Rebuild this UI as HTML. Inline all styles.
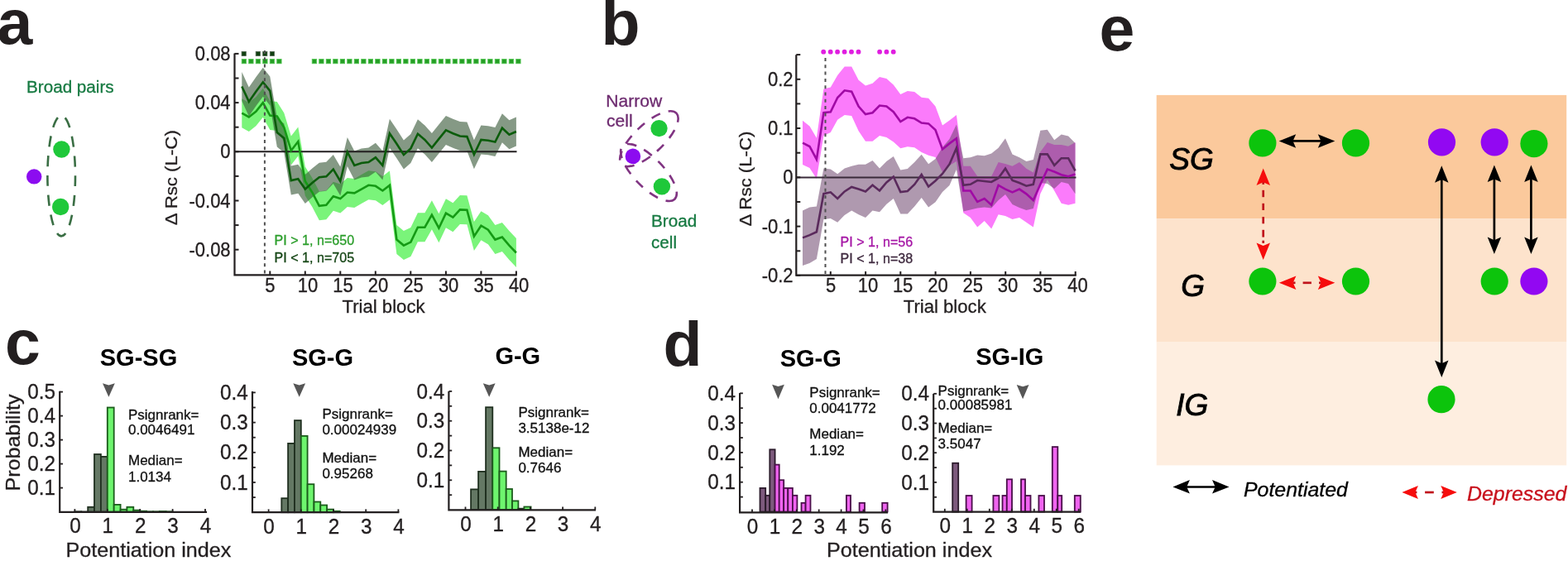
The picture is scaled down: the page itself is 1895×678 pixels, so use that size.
<!DOCTYPE html>
<html><head><meta charset="utf-8"><title>Figure</title>
<style>
html,body{margin:0;padding:0;background:#fff;width:1895px;height:678px;overflow:hidden}
svg{display:block}
text{font-family:'Liberation Sans', Arial, Helvetica, sans-serif}
</style></head><body>
<svg width="1895" height="678" viewBox="0 0 1895 678">
<rect x="0" y="0" width="1895" height="678" fill="#fff"/>
<text transform="translate(-3.5,53) scale(1.020,1.000)" font-size="75.5" fill="#231f20" font-weight="bold">a</text>
<text transform="translate(726.5,53.5) scale(1.020,1.000)" font-size="75.5" fill="#231f20" font-weight="bold">b</text>
<text transform="translate(6,440.3) scale(1.020,1.000)" font-size="75.5" fill="#231f20" font-weight="bold">c</text>
<text transform="translate(801.5,441.7) scale(1.020,1.000)" font-size="75.5" fill="#231f20" font-weight="bold">d</text>
<text transform="translate(1328.6,61.3) scale(1.020,1.000)" font-size="75.5" fill="#231f20" font-weight="bold">e</text>
<text transform="translate(32,111.9) scale(1.060,1.050)" font-size="19.5" fill="#177a42" stroke="#177a42" stroke-width="0.3">Broad pairs</text>
<ellipse cx="74.2" cy="212.6" rx="16.8" ry="72.8" fill="none" stroke="#3a6e44" stroke-width="2.6" stroke-dasharray="13 10.8" stroke-dashoffset="0.5"/>
<circle cx="74.4" cy="180.5" r="10.2" fill="#1fc83a"/>
<circle cx="73.2" cy="250" r="10.2" fill="#1fc83a"/>
<circle cx="41.2" cy="213.4" r="9.2" fill="#8c0cf0"/>
<polygon points="292.3,119.2 300.8,124 309.3,117.3 317.8,106.7 326.3,122.1 334.8,123 343.3,136.5 351.8,164.5 360.3,153.5 368.8,201.5 377.3,215 385.8,231.3 394.3,230.3 402.8,219.7 411.3,222.6 419.8,215 428.3,215.9 436.9,211.1 445.4,206.3 453.9,207.3 462.4,213 470.9,206.4 479.4,272.1 487.9,279.1 496.4,275.1 504.9,257.2 513.4,257.2 521.9,242.2 530.4,258.2 538.9,240.2 547.4,245.2 555.9,235.9 564.4,236.3 572.9,268.1 581.4,255.2 589.9,260.2 598.4,272.1 606.9,269.1 615.4,279.1 623.9,288 623.9,323 615.4,314.1 606.9,304.1 598.4,307.1 589.9,295.2 581.4,290.2 572.9,303.1 564.4,271.3 555.9,270.9 547.4,280.2 538.9,275.2 530.4,293.2 521.9,277.2 513.4,292.2 504.9,292.2 496.4,310.1 487.9,314.1 479.4,307.1 470.9,241.4 462.4,248 453.9,242.3 445.4,241.3 436.9,246.1 428.3,250.9 419.8,250 411.3,257.6 402.8,254.7 394.3,265.3 385.8,266.3 377.3,250 368.8,236.5 360.3,188.5 351.8,199.5 343.3,171.5 334.8,158 326.3,157.1 317.8,141.7 309.3,152.3 300.8,159 292.3,154.2" fill="#7af47a"/>
<polygon points="292.3,87 300.8,105.4 309.3,93.3 317.8,81.8 326.3,92.4 334.8,142.5 343.3,149.5 351.8,200.6 360.3,198.7 368.8,211.1 377.3,203.5 385.8,196.7 394.3,195.8 402.8,187.1 411.3,201.5 419.8,166.1 428.3,182.4 436.9,179.5 445.4,178.5 453.9,172.8 462.4,182.4 470.9,143.7 479.4,156.2 487.9,169.6 496.4,161.9 504.9,144.3 513.4,151.4 521.9,161 530.4,150.4 538.9,139.9 547.4,143.7 555.9,147 564.4,147.6 572.9,169.2 581.4,151.5 589.9,152.3 598.4,154 606.9,137.2 615.4,145.3 623.9,141.5 623.9,176.5 615.4,180.3 606.9,172.2 598.4,189 589.9,187.3 581.4,186.5 572.9,204.2 564.4,182.6 555.9,182 547.4,178.7 538.9,174.9 530.4,185.4 521.9,196 513.4,186.4 504.9,179.3 496.4,196.9 487.9,204.6 479.4,191.2 470.9,178.7 462.4,217.4 453.9,207.8 445.4,213.5 436.9,214.5 428.3,217.4 419.8,201.1 411.3,236.5 402.8,222.1 394.3,230.8 385.8,231.7 377.3,238.5 368.8,246.1 360.3,233.7 351.8,235.6 343.3,184.5 334.8,177.5 326.3,127.4 317.8,116.8 309.3,128.3 300.8,140.4 292.3,122" fill="#3a5a3a" fill-opacity="0.62"/>
<line x1="283.5" y1="183.3" x2="624.5" y2="183.3" stroke="#231f20" stroke-width="2"/>
<polyline points="292.3,136.7 300.8,141.5 309.3,134.8 317.8,124.2 326.3,139.6 334.8,140.5 343.3,154 351.8,182 360.3,171 368.8,219 377.3,232.5 385.8,248.8 394.3,247.8 402.8,237.2 411.3,240.1 419.8,232.5 428.3,233.4 436.9,228.6 445.4,223.8 453.9,224.8 462.4,230.5 470.9,223.9 479.4,289.6 487.9,296.6 496.4,292.6 504.9,274.7 513.4,274.7 521.9,259.7 530.4,275.7 538.9,257.7 547.4,262.7 555.9,253.4 564.4,253.8 572.9,285.6 581.4,272.7 589.9,277.7 598.4,289.6 606.9,286.6 615.4,296.6 623.9,305.5" fill="none" stroke="#159a15" stroke-width="2.6" stroke-linejoin="miter"/>
<polyline points="292.3,104.5 300.8,122.9 309.3,110.8 317.8,99.3 326.3,109.9 334.8,160 343.3,167 351.8,218.1 360.3,216.2 368.8,228.6 377.3,221 385.8,214.2 394.3,213.3 402.8,204.6 411.3,219 419.8,183.6 428.3,199.9 436.9,197 445.4,196 453.9,190.3 462.4,199.9 470.9,161.2 479.4,173.7 487.9,187.1 496.4,179.4 504.9,161.8 513.4,168.9 521.9,178.5 530.4,167.9 538.9,157.4 547.4,161.2 555.9,164.5 564.4,165.1 572.9,186.7 581.4,169 589.9,169.8 598.4,171.5 606.9,154.7 615.4,162.8 623.9,159" fill="none" stroke="#0b5c0b" stroke-width="2.6" stroke-linejoin="miter"/>
<rect x="292.1" y="62.3" width="5.2" height="5.2" fill="#0f3f0f" stroke="#4f634f" stroke-width="0.8"/>
<rect x="309.2" y="62.3" width="5.2" height="5.2" fill="#0f3f0f" stroke="#4f634f" stroke-width="0.8"/>
<rect x="317.7" y="62.3" width="5.2" height="5.2" fill="#0f3f0f" stroke="#4f634f" stroke-width="0.8"/>
<rect x="326.3" y="62.3" width="5.2" height="5.2" fill="#0f3f0f" stroke="#4f634f" stroke-width="0.8"/>
<rect x="292.2" y="71.4" width="5.4" height="5.4" fill="#259f25" stroke="#55c755" stroke-width="0.8"/>
<rect x="300.7" y="71.4" width="5.4" height="5.4" fill="#259f25" stroke="#55c755" stroke-width="0.8"/>
<rect x="309.2" y="71.4" width="5.4" height="5.4" fill="#259f25" stroke="#55c755" stroke-width="0.8"/>
<rect x="317.7" y="71.4" width="5.4" height="5.4" fill="#259f25" stroke="#55c755" stroke-width="0.8"/>
<rect x="326.2" y="71.4" width="5.4" height="5.4" fill="#259f25" stroke="#55c755" stroke-width="0.8"/>
<rect x="334.7" y="71.4" width="5.4" height="5.4" fill="#259f25" stroke="#55c755" stroke-width="0.8"/>
<rect x="377.2" y="71.4" width="5.4" height="5.4" fill="#259f25" stroke="#55c755" stroke-width="0.8"/>
<rect x="385.7" y="71.4" width="5.4" height="5.4" fill="#259f25" stroke="#55c755" stroke-width="0.8"/>
<rect x="394.2" y="71.4" width="5.4" height="5.4" fill="#259f25" stroke="#55c755" stroke-width="0.8"/>
<rect x="402.7" y="71.4" width="5.4" height="5.4" fill="#259f25" stroke="#55c755" stroke-width="0.8"/>
<rect x="411.2" y="71.4" width="5.4" height="5.4" fill="#259f25" stroke="#55c755" stroke-width="0.8"/>
<rect x="419.7" y="71.4" width="5.4" height="5.4" fill="#259f25" stroke="#55c755" stroke-width="0.8"/>
<rect x="428.2" y="71.4" width="5.4" height="5.4" fill="#259f25" stroke="#55c755" stroke-width="0.8"/>
<rect x="436.7" y="71.4" width="5.4" height="5.4" fill="#259f25" stroke="#55c755" stroke-width="0.8"/>
<rect x="445.2" y="71.4" width="5.4" height="5.4" fill="#259f25" stroke="#55c755" stroke-width="0.8"/>
<rect x="453.7" y="71.4" width="5.4" height="5.4" fill="#259f25" stroke="#55c755" stroke-width="0.8"/>
<rect x="462.2" y="71.4" width="5.4" height="5.4" fill="#259f25" stroke="#55c755" stroke-width="0.8"/>
<rect x="470.7" y="71.4" width="5.4" height="5.4" fill="#259f25" stroke="#55c755" stroke-width="0.8"/>
<rect x="479.2" y="71.4" width="5.4" height="5.4" fill="#259f25" stroke="#55c755" stroke-width="0.8"/>
<rect x="487.7" y="71.4" width="5.4" height="5.4" fill="#259f25" stroke="#55c755" stroke-width="0.8"/>
<rect x="496.2" y="71.4" width="5.4" height="5.4" fill="#259f25" stroke="#55c755" stroke-width="0.8"/>
<rect x="504.7" y="71.4" width="5.4" height="5.4" fill="#259f25" stroke="#55c755" stroke-width="0.8"/>
<rect x="513.2" y="71.4" width="5.4" height="5.4" fill="#259f25" stroke="#55c755" stroke-width="0.8"/>
<rect x="521.7" y="71.4" width="5.4" height="5.4" fill="#259f25" stroke="#55c755" stroke-width="0.8"/>
<rect x="530.2" y="71.4" width="5.4" height="5.4" fill="#259f25" stroke="#55c755" stroke-width="0.8"/>
<rect x="538.7" y="71.4" width="5.4" height="5.4" fill="#259f25" stroke="#55c755" stroke-width="0.8"/>
<rect x="547.2" y="71.4" width="5.4" height="5.4" fill="#259f25" stroke="#55c755" stroke-width="0.8"/>
<rect x="555.7" y="71.4" width="5.4" height="5.4" fill="#259f25" stroke="#55c755" stroke-width="0.8"/>
<rect x="564.2" y="71.4" width="5.4" height="5.4" fill="#259f25" stroke="#55c755" stroke-width="0.8"/>
<rect x="572.7" y="71.4" width="5.4" height="5.4" fill="#259f25" stroke="#55c755" stroke-width="0.8"/>
<rect x="581.2" y="71.4" width="5.4" height="5.4" fill="#259f25" stroke="#55c755" stroke-width="0.8"/>
<rect x="589.7" y="71.4" width="5.4" height="5.4" fill="#259f25" stroke="#55c755" stroke-width="0.8"/>
<rect x="598.2" y="71.4" width="5.4" height="5.4" fill="#259f25" stroke="#55c755" stroke-width="0.8"/>
<rect x="606.7" y="71.4" width="5.4" height="5.4" fill="#259f25" stroke="#55c755" stroke-width="0.8"/>
<rect x="615.2" y="71.4" width="5.4" height="5.4" fill="#259f25" stroke="#55c755" stroke-width="0.8"/>
<rect x="623.7" y="71.4" width="5.4" height="5.4" fill="#259f25" stroke="#55c755" stroke-width="0.8"/>
<line x1="319.9" y1="61" x2="319.9" y2="331" stroke="#505050" stroke-width="2" stroke-dasharray="4 4.3"/>
<path d="M283.5,64.5 V332.3 H624.8" fill="none" stroke="#231f20" stroke-width="2.2"/>
<line x1="283.5" y1="64.9" x2="288.5" y2="64.9" stroke="#231f20" stroke-width="2"/>
<line x1="283.5" y1="94.5" x2="288.5" y2="94.5" stroke="#231f20" stroke-width="2"/>
<line x1="283.5" y1="124.1" x2="288.5" y2="124.1" stroke="#231f20" stroke-width="2"/>
<line x1="283.5" y1="153.7" x2="288.5" y2="153.7" stroke="#231f20" stroke-width="2"/>
<line x1="283.5" y1="183.3" x2="288.5" y2="183.3" stroke="#231f20" stroke-width="2"/>
<line x1="283.5" y1="212.9" x2="288.5" y2="212.9" stroke="#231f20" stroke-width="2"/>
<line x1="283.5" y1="242.5" x2="288.5" y2="242.5" stroke="#231f20" stroke-width="2"/>
<line x1="283.5" y1="272.1" x2="288.5" y2="272.1" stroke="#231f20" stroke-width="2"/>
<line x1="283.5" y1="301.7" x2="288.5" y2="301.7" stroke="#231f20" stroke-width="2"/>
<text transform="translate(278.6,73) scale(1.000,1.070)" font-size="22" fill="#231f20" stroke="#231f20" stroke-width="0.3" text-anchor="end">0.08</text>
<text transform="translate(278.6,132.2) scale(1.000,1.070)" font-size="22" fill="#231f20" stroke="#231f20" stroke-width="0.3" text-anchor="end">0.04</text>
<text transform="translate(278.6,191.4) scale(1.000,1.070)" font-size="22" fill="#231f20" stroke="#231f20" stroke-width="0.3" text-anchor="end">0</text>
<text transform="translate(278.6,250.6) scale(1.000,1.070)" font-size="22" fill="#231f20" stroke="#231f20" stroke-width="0.3" text-anchor="end">-0.04</text>
<text transform="translate(278.6,309.8) scale(1.000,1.070)" font-size="22" fill="#231f20" stroke="#231f20" stroke-width="0.3" text-anchor="end">-0.08</text>
<line x1="326.3" y1="332" x2="326.3" y2="327.5" stroke="#231f20" stroke-width="2"/>
<text transform="translate(326.3,353.3) scale(1.000,1.070)" font-size="22" fill="#231f20" stroke="#231f20" stroke-width="0.3" text-anchor="middle">5</text>
<line x1="368.8" y1="332" x2="368.8" y2="327.5" stroke="#231f20" stroke-width="2"/>
<text transform="translate(372,353.3) scale(1.000,1.070)" font-size="22" fill="#231f20" stroke="#231f20" stroke-width="0.3" text-anchor="middle">10</text>
<line x1="411.3" y1="332" x2="411.3" y2="327.5" stroke="#231f20" stroke-width="2"/>
<text transform="translate(414.5,353.3) scale(1.000,1.070)" font-size="22" fill="#231f20" stroke="#231f20" stroke-width="0.3" text-anchor="middle">15</text>
<line x1="453.8" y1="332" x2="453.8" y2="327.5" stroke="#231f20" stroke-width="2"/>
<text transform="translate(457,353.3) scale(1.000,1.070)" font-size="22" fill="#231f20" stroke="#231f20" stroke-width="0.3" text-anchor="middle">20</text>
<line x1="496.3" y1="332" x2="496.3" y2="327.5" stroke="#231f20" stroke-width="2"/>
<text transform="translate(499.5,353.3) scale(1.000,1.070)" font-size="22" fill="#231f20" stroke="#231f20" stroke-width="0.3" text-anchor="middle">25</text>
<line x1="538.9" y1="332" x2="538.9" y2="327.5" stroke="#231f20" stroke-width="2"/>
<text transform="translate(542.1,353.3) scale(1.000,1.070)" font-size="22" fill="#231f20" stroke="#231f20" stroke-width="0.3" text-anchor="middle">30</text>
<line x1="581.4" y1="332" x2="581.4" y2="327.5" stroke="#231f20" stroke-width="2"/>
<text transform="translate(584.6,353.3) scale(1.000,1.070)" font-size="22" fill="#231f20" stroke="#231f20" stroke-width="0.3" text-anchor="middle">35</text>
<line x1="623.9" y1="332" x2="623.9" y2="327.5" stroke="#231f20" stroke-width="2"/>
<text transform="translate(627.1,353.3) scale(1.000,1.070)" font-size="22" fill="#231f20" stroke="#231f20" stroke-width="0.3" text-anchor="middle">40</text>
<text transform="translate(463.5,378.3) scale(1.030,1.000)" font-size="21.5" fill="#231f20" stroke="#231f20" stroke-width="0.3" text-anchor="middle">Trial block</text>
<text transform="translate(214.3,214.7) rotate(-90) scale(1.060,1.000)" font-size="21" fill="#231f20" stroke="#231f20" stroke-width="0.3" text-anchor="middle">&#916; Rsc (L-C)</text>
<text transform="translate(331.5,296) scale(1.060,1.120)" font-size="15.2" fill="#2c9e2c" stroke="#2c9e2c" stroke-width="0.3">PI &gt; 1, n=650</text>
<text transform="translate(331.5,316.8) scale(1.060,1.120)" font-size="15.2" fill="#164616" stroke="#164616" stroke-width="0.3">PI &lt; 1, n=705</text>
<text transform="translate(732.3,128.6) scale(1.080,1.040)" font-size="19.5" fill="#6e2c70" stroke="#6e2c70" stroke-width="0.3">Narrow</text>
<text transform="translate(733.1,152.7) scale(1.080,1.040)" font-size="19.5" fill="#6e2c70" stroke="#6e2c70" stroke-width="0.3">cell</text>
<text transform="translate(787,274.4) scale(1.060,1.000)" font-size="19.5" fill="#177a42" stroke="#177a42" stroke-width="0.3">Broad</text>
<text transform="translate(787,299.8) scale(1.060,1.000)" font-size="19.5" fill="#177a42" stroke="#177a42" stroke-width="0.3">cell</text>
<ellipse cx="784.4" cy="167.7" rx="45.3" ry="17.6" transform="rotate(-43 784.4 167.7)" fill="none" stroke="#803482" stroke-width="2.6" stroke-dasharray="11.5 10.3" stroke-dashoffset="0"/>
<ellipse cx="784" cy="208.5" rx="45" ry="17.7" transform="rotate(45.8 784 208.5)" fill="none" stroke="#803482" stroke-width="2.6" stroke-dasharray="11.5 10.3" stroke-dashoffset="0"/>
<circle cx="796.5" cy="155.1" r="10.2" fill="#1fc83a"/>
<circle cx="799.9" cy="225.4" r="10.2" fill="#1fc83a"/>
<circle cx="764.9" cy="188.9" r="9.3" fill="#8c0cf0"/>
<polygon points="970,145.7 978.5,152.5 986.9,166.8 995.4,107.4 1003.8,105.5 1012.2,91.1 1020.7,80.5 1029.2,80.5 1037.6,96.8 1046,103.6 1054.5,100.7 1063,93 1071.4,95 1079.8,102.6 1088.3,114 1096.8,110.1 1105.2,111.1 1113.7,117.8 1122.1,118.8 1130.5,128.4 1139,151.4 1147.5,145.6 1155.9,138.9 1164.3,200.8 1172.8,200.8 1181.2,213 1189.7,213 1198.2,213 1206.6,196 1215,198 1223.5,200.8 1232,196 1240.4,203.7 1248.8,208.5 1257.3,183.5 1265.8,172 1274.2,175 1282.7,175 1291.1,176.8 1299.5,172 1299.5,245.8 1291.1,247.7 1282.7,245.8 1274.2,230.5 1265.8,217 1257.3,234.3 1248.8,274.6 1240.4,268.8 1232,263 1223.5,265 1215,261 1206.6,259.2 1198.2,276.5 1189.7,266.9 1181.2,274.6 1172.8,263 1164.3,257.3 1155.9,195 1147.5,200 1139,208 1130.5,190 1122.1,187.8 1113.7,184 1105.2,178.2 1096.8,177.2 1088.3,179.2 1079.8,171.6 1071.4,165.9 1063,164 1054.5,170.7 1046,170.7 1037.6,158.2 1029.2,140 1020.7,139 1012.2,144.8 1003.8,160.1 995.4,164 986.9,216 978.5,203 970,199" fill="#fb7bfb"/>
<polygon points="970,254.4 978.5,250.5 986.9,249.6 995.4,203.6 1003.8,204.5 1012.2,210.3 1020.7,203.6 1029.2,200.7 1037.6,198.8 1046,198.8 1054.5,194 1063,203.6 1071.4,195 1079.8,189 1088.3,205.4 1096.8,204 1105.2,196 1113.7,186.8 1122.1,198.3 1130.5,192 1139,178 1147.5,168 1155.9,150.6 1164.3,191.2 1172.8,190.2 1181.2,187.4 1189.7,188.3 1198.2,185.5 1206.6,178.7 1215,167.2 1223.5,186.4 1232,190.2 1240.4,195 1248.8,193 1257.3,157.7 1265.8,156.7 1274.2,169.2 1282.7,162.5 1291.1,164.4 1299.5,173 1299.5,234.3 1291.1,222 1282.7,220 1274.2,228 1265.8,222 1257.3,221 1248.8,252 1240.4,254 1232,251 1223.5,247 1215,235 1206.6,242 1198.2,251.6 1189.7,250.6 1181.2,251.6 1172.8,253.5 1164.3,255.4 1155.9,205 1147.5,224 1139,232 1130.5,244.3 1122.1,250.5 1113.7,239 1105.2,249.6 1096.8,258.5 1088.3,258.5 1079.8,240 1071.4,246.7 1063,256.3 1054.5,254.4 1046,263 1037.6,259.2 1029.2,254.4 1020.7,260 1012.2,268.8 1003.8,264 995.4,265 986.9,313 978.5,318 970,321" fill="#6e466e" fill-opacity="0.55"/>
<line x1="962.3" y1="214.4" x2="1300.5" y2="214.4" stroke="#3a2a3a" stroke-width="2"/>
<polyline points="970,172.6 978.5,177 986.9,192.7 995.4,136.2 1003.8,135.2 1012.2,118 1020.7,109.3 1029.2,110.7 1037.6,128.5 1046,138.1 1054.5,136.2 1063,127.5 1071.4,128.5 1079.8,135.2 1088.3,147.1 1096.8,141.8 1105.2,143.3 1113.7,148.5 1122.1,149.4 1130.5,157.1 1139,180.4 1147.5,173.4 1155.9,167.3 1164.3,230.4 1172.8,230.5 1181.2,243.9 1189.7,240 1198.2,247.7 1206.6,223.8 1215,228.6 1223.5,232.4 1232,228.6 1240.4,234.3 1248.8,242 1257.3,222.8 1265.8,204.6 1274.2,207.5 1282.7,211.3 1291.1,213.2 1299.5,210.4" fill="none" stroke="#a00aa5" stroke-width="2.6"/>
<polyline points="970,287.4 978.5,284.1 986.9,280.3 995.4,234.2 1003.8,232.3 1012.2,240 1020.7,231.4 1029.2,226 1037.6,228.5 1046,231.4 1054.5,223.7 1063,230.4 1071.4,220.4 1079.8,213.5 1088.3,232 1096.8,231 1105.2,223 1113.7,211 1122.1,225.5 1130.5,218.5 1139,210 1147.5,198.4 1155.9,179 1164.3,223.8 1172.8,222.8 1181.2,218 1189.7,219 1198.2,220 1206.6,215.2 1215,203.7 1223.5,218 1232,221 1240.4,224.7 1248.8,222.8 1257.3,186.4 1265.8,186.4 1274.2,199.8 1282.7,191.2 1291.1,191.2 1299.5,206.5" fill="none" stroke="#5a2a5c" stroke-width="2.6"/>
<circle cx="995.2" cy="62.7" r="2.9" fill="#e01ee0"/>
<circle cx="1003.7" cy="62.7" r="2.9" fill="#e01ee0"/>
<circle cx="1012.1" cy="62.7" r="2.9" fill="#e01ee0"/>
<circle cx="1020.6" cy="62.7" r="2.9" fill="#e01ee0"/>
<circle cx="1029" cy="62.7" r="2.9" fill="#e01ee0"/>
<circle cx="1037.5" cy="62.7" r="2.9" fill="#e01ee0"/>
<circle cx="1063.1" cy="62.7" r="2.9" fill="#e01ee0"/>
<circle cx="1071.4" cy="62.7" r="2.9" fill="#e01ee0"/>
<circle cx="1079.7" cy="62.7" r="2.9" fill="#e01ee0"/>
<line x1="997.5" y1="70" x2="997.5" y2="331" stroke="#505050" stroke-width="2" stroke-dasharray="4 4.3"/>
<path d="M962.3,66.3 V332.6 H1300.8" fill="none" stroke="#231f20" stroke-width="2.2"/>
<line x1="962.3" y1="66.1" x2="967.3" y2="66.1" stroke="#231f20" stroke-width="2"/>
<line x1="962.3" y1="95.8" x2="967.3" y2="95.8" stroke="#231f20" stroke-width="2"/>
<line x1="962.3" y1="125.4" x2="967.3" y2="125.4" stroke="#231f20" stroke-width="2"/>
<line x1="962.3" y1="155" x2="967.3" y2="155" stroke="#231f20" stroke-width="2"/>
<line x1="962.3" y1="184.7" x2="967.3" y2="184.7" stroke="#231f20" stroke-width="2"/>
<line x1="962.3" y1="214.3" x2="967.3" y2="214.3" stroke="#231f20" stroke-width="2"/>
<line x1="962.3" y1="244" x2="967.3" y2="244" stroke="#231f20" stroke-width="2"/>
<line x1="962.3" y1="273.6" x2="967.3" y2="273.6" stroke="#231f20" stroke-width="2"/>
<line x1="962.3" y1="303.3" x2="967.3" y2="303.3" stroke="#231f20" stroke-width="2"/>
<line x1="962.3" y1="332.9" x2="967.3" y2="332.9" stroke="#231f20" stroke-width="2"/>
<text transform="translate(958.6,103.8) scale(1.000,1.070)" font-size="22" fill="#231f20" stroke="#231f20" stroke-width="0.3" text-anchor="end">0.2</text>
<text transform="translate(958.6,163.1) scale(1.000,1.070)" font-size="22" fill="#231f20" stroke="#231f20" stroke-width="0.3" text-anchor="end">0.1</text>
<text transform="translate(958.6,222.4) scale(1.000,1.070)" font-size="22" fill="#231f20" stroke="#231f20" stroke-width="0.3" text-anchor="end">0</text>
<text transform="translate(958.6,281.8) scale(1.000,1.070)" font-size="22" fill="#231f20" stroke="#231f20" stroke-width="0.3" text-anchor="end">-0.1</text>
<text transform="translate(958.6,341) scale(1.000,1.070)" font-size="22" fill="#231f20" stroke="#231f20" stroke-width="0.3" text-anchor="end">-0.2</text>
<line x1="1003.8" y1="332.4" x2="1003.8" y2="328" stroke="#231f20" stroke-width="2"/>
<text transform="translate(1004.1,353.3) scale(1.000,1.070)" font-size="22" fill="#231f20" stroke="#231f20" stroke-width="0.3" text-anchor="middle">5</text>
<line x1="1046.1" y1="332.4" x2="1046.1" y2="328" stroke="#231f20" stroke-width="2"/>
<text transform="translate(1048.9,353.3) scale(1.000,1.070)" font-size="22" fill="#231f20" stroke="#231f20" stroke-width="0.3" text-anchor="middle">10</text>
<line x1="1088.3" y1="332.4" x2="1088.3" y2="328" stroke="#231f20" stroke-width="2"/>
<text transform="translate(1091.1,353.3) scale(1.000,1.070)" font-size="22" fill="#231f20" stroke="#231f20" stroke-width="0.3" text-anchor="middle">15</text>
<line x1="1130.6" y1="332.4" x2="1130.6" y2="328" stroke="#231f20" stroke-width="2"/>
<text transform="translate(1133.4,353.3) scale(1.000,1.070)" font-size="22" fill="#231f20" stroke="#231f20" stroke-width="0.3" text-anchor="middle">20</text>
<line x1="1172.9" y1="332.4" x2="1172.9" y2="328" stroke="#231f20" stroke-width="2"/>
<text transform="translate(1175.7,353.3) scale(1.000,1.070)" font-size="22" fill="#231f20" stroke="#231f20" stroke-width="0.3" text-anchor="middle">25</text>
<line x1="1215.2" y1="332.4" x2="1215.2" y2="328" stroke="#231f20" stroke-width="2"/>
<text transform="translate(1218,353.3) scale(1.000,1.070)" font-size="22" fill="#231f20" stroke="#231f20" stroke-width="0.3" text-anchor="middle">30</text>
<line x1="1257.4" y1="332.4" x2="1257.4" y2="328" stroke="#231f20" stroke-width="2"/>
<text transform="translate(1260.2,353.3) scale(1.000,1.070)" font-size="22" fill="#231f20" stroke="#231f20" stroke-width="0.3" text-anchor="middle">35</text>
<line x1="1299.7" y1="332.4" x2="1299.7" y2="328" stroke="#231f20" stroke-width="2"/>
<text transform="translate(1302.5,353.3) scale(1.000,1.070)" font-size="22" fill="#231f20" stroke="#231f20" stroke-width="0.3" text-anchor="middle">40</text>
<text transform="translate(1141.7,378.3) scale(1.030,1.000)" font-size="21.5" fill="#231f20" stroke="#231f20" stroke-width="0.3" text-anchor="middle">Trial block</text>
<text transform="translate(907.6,216) rotate(-90) scale(1.060,1.000)" font-size="21" fill="#231f20" stroke="#231f20" stroke-width="0.3" text-anchor="middle">&#916; Rsc (L-C)</text>
<text transform="translate(1015.5,297.5) scale(1.060,1.120)" font-size="15.2" fill="#a516a5" stroke="#a516a5" stroke-width="0.3">PI &gt; 1, n=56</text>
<text transform="translate(1015.5,318) scale(1.060,1.120)" font-size="15.2" fill="#3f2a3f" stroke="#3f2a3f" stroke-width="0.3">PI &lt; 1, n=38</text>
<rect x="90.4" y="618.3" width="7.9" height="0.3" fill="#647864" stroke="#1f2f1f" stroke-width="1.8"/>
<rect x="98.3" y="618.5" width="7.9" height="0.1" fill="#647864" stroke="#1f2f1f" stroke-width="1.8"/>
<rect x="106.2" y="612.8" width="7.9" height="5.8" fill="#647864" stroke="#1f2f1f" stroke-width="1.8"/>
<rect x="114" y="549" width="7.9" height="69.6" fill="#647864" stroke="#1f2f1f" stroke-width="1.8"/>
<rect x="121.9" y="551.9" width="7.9" height="66.7" fill="#647864" stroke="#1f2f1f" stroke-width="1.8"/>
<rect x="129.8" y="492.5" width="7.9" height="126.2" fill="#6ef56e" stroke="#1c5c1c" stroke-width="1.8"/>
<rect x="137.7" y="609.9" width="7.9" height="8.7" fill="#6ef56e" stroke="#1c5c1c" stroke-width="1.8"/>
<rect x="145.6" y="615.7" width="7.9" height="2.9" fill="#6ef56e" stroke="#1c5c1c" stroke-width="1.8"/>
<rect x="153.4" y="612.8" width="7.9" height="5.8" fill="#6ef56e" stroke="#1c5c1c" stroke-width="1.8"/>
<rect x="161.3" y="616.6" width="7.9" height="2" fill="#6ef56e" stroke="#1c5c1c" stroke-width="1.8"/>
<rect x="169.2" y="617.7" width="7.9" height="0.9" fill="#6ef56e" stroke="#1c5c1c" stroke-width="1.8"/>
<rect x="177.1" y="618.3" width="7.9" height="0.3" fill="#6ef56e" stroke="#1c5c1c" stroke-width="1.8"/>
<rect x="185" y="618.3" width="7.9" height="0.3" fill="#6ef56e" stroke="#1c5c1c" stroke-width="1.8"/>
<rect x="192.8" y="618" width="7.9" height="0.6" fill="#6ef56e" stroke="#1c5c1c" stroke-width="1.8"/>
<rect x="200.7" y="618.3" width="7.9" height="0.3" fill="#6ef56e" stroke="#1c5c1c" stroke-width="1.8"/>
<path d="M72.2,472.8 V618.9 H250" fill="none" stroke="#231f20" stroke-width="2.2"/>
<line x1="72.2" y1="589.6" x2="76" y2="589.6" stroke="#231f20" stroke-width="1.8"/>
<line x1="72.2" y1="560.6" x2="76" y2="560.6" stroke="#231f20" stroke-width="1.8"/>
<line x1="72.2" y1="531.6" x2="76" y2="531.6" stroke="#231f20" stroke-width="1.8"/>
<line x1="72.2" y1="502.6" x2="76" y2="502.6" stroke="#231f20" stroke-width="1.8"/>
<line x1="72.2" y1="473.6" x2="76" y2="473.6" stroke="#231f20" stroke-width="1.8"/>
<text transform="translate(67,598.2) scale(1.000,1.050)" font-size="24.3" fill="#231f20" stroke="#231f20" stroke-width="0.3" text-anchor="end">0.1</text>
<text transform="translate(67,569.2) scale(1.000,1.050)" font-size="24.3" fill="#231f20" stroke="#231f20" stroke-width="0.3" text-anchor="end">0.2</text>
<text transform="translate(67,540.2) scale(1.000,1.050)" font-size="24.3" fill="#231f20" stroke="#231f20" stroke-width="0.3" text-anchor="end">0.3</text>
<text transform="translate(67,511.2) scale(1.000,1.050)" font-size="24.3" fill="#231f20" stroke="#231f20" stroke-width="0.3" text-anchor="end">0.4</text>
<text transform="translate(67,482.2) scale(1.000,1.050)" font-size="24.3" fill="#231f20" stroke="#231f20" stroke-width="0.3" text-anchor="end">0.5</text>
<line x1="90.4" y1="618.9" x2="90.4" y2="615.1" stroke="#231f20" stroke-width="1.8"/>
<text transform="translate(90.9,644.4) scale(1.000,1.050)" font-size="24.3" fill="#231f20" stroke="#231f20" stroke-width="0.3" text-anchor="middle">0</text>
<line x1="129.8" y1="618.9" x2="129.8" y2="615.1" stroke="#231f20" stroke-width="1.8"/>
<text transform="translate(130.3,644.4) scale(1.000,1.050)" font-size="24.3" fill="#231f20" stroke="#231f20" stroke-width="0.3" text-anchor="middle">1</text>
<line x1="169.2" y1="618.9" x2="169.2" y2="615.1" stroke="#231f20" stroke-width="1.8"/>
<text transform="translate(169.7,644.4) scale(1.000,1.050)" font-size="24.3" fill="#231f20" stroke="#231f20" stroke-width="0.3" text-anchor="middle">2</text>
<line x1="208.6" y1="618.9" x2="208.6" y2="615.1" stroke="#231f20" stroke-width="1.8"/>
<text transform="translate(209.1,644.4) scale(1.000,1.050)" font-size="24.3" fill="#231f20" stroke="#231f20" stroke-width="0.3" text-anchor="middle">3</text>
<line x1="248" y1="618.9" x2="248" y2="615.1" stroke="#231f20" stroke-width="1.8"/>
<text transform="translate(248.5,644.4) scale(1.000,1.050)" font-size="24.3" fill="#231f20" stroke="#231f20" stroke-width="0.3" text-anchor="middle">4</text>
<text transform="translate(167.5,442.4)" font-size="29" fill="#000" text-anchor="middle" font-weight="bold">SG-SG</text>
<text transform="translate(155,506.5) scale(1.050,1.000)" font-size="16.2" fill="#111" stroke="#111" stroke-width="0.3">Psignrank=</text>
<text transform="translate(155,525) scale(1.050,1.000)" font-size="16.2" fill="#111" stroke="#111" stroke-width="0.3">0.0046491</text>
<text transform="translate(155,562.3) scale(1.050,1.000)" font-size="16.2" fill="#111" stroke="#111" stroke-width="0.3">Median=</text>
<text transform="translate(155,582.2) scale(1.050,1.000)" font-size="16.2" fill="#111" stroke="#111" stroke-width="0.3">1.0134</text>
<polygon points="124,463.2 131.4,465.5 138.8,463.2 131.4,479.8" fill="#565656"/>
<rect x="340.3" y="602.2" width="7.8" height="17" fill="#647864" stroke="#1f2f1f" stroke-width="1.8"/>
<rect x="348.1" y="535.9" width="7.8" height="83.3" fill="#647864" stroke="#1f2f1f" stroke-width="1.8"/>
<rect x="356" y="508.1" width="7.8" height="111.1" fill="#647864" stroke="#1f2f1f" stroke-width="1.8"/>
<rect x="363.8" y="526.9" width="7.8" height="92.3" fill="#6ef56e" stroke="#1c5c1c" stroke-width="1.8"/>
<rect x="371.6" y="585.2" width="7.8" height="34" fill="#6ef56e" stroke="#1c5c1c" stroke-width="1.8"/>
<rect x="379.5" y="606.5" width="7.8" height="12.7" fill="#6ef56e" stroke="#1c5c1c" stroke-width="1.8"/>
<rect x="387.3" y="610.5" width="7.8" height="8.7" fill="#6ef56e" stroke="#1c5c1c" stroke-width="1.8"/>
<rect x="395.2" y="615.6" width="7.8" height="3.6" fill="#6ef56e" stroke="#1c5c1c" stroke-width="1.8"/>
<rect x="403" y="617.8" width="7.8" height="1.4" fill="#6ef56e" stroke="#1c5c1c" stroke-width="1.8"/>
<path d="M305,472.9 V619.2 H482.4" fill="none" stroke="#231f20" stroke-width="2.2"/>
<line x1="305" y1="601.1" x2="308.8" y2="601.1" stroke="#231f20" stroke-width="1.8"/>
<line x1="305" y1="583" x2="308.8" y2="583" stroke="#231f20" stroke-width="1.8"/>
<line x1="305" y1="564.9" x2="308.8" y2="564.9" stroke="#231f20" stroke-width="1.8"/>
<line x1="305" y1="546.8" x2="308.8" y2="546.8" stroke="#231f20" stroke-width="1.8"/>
<line x1="305" y1="528.7" x2="308.8" y2="528.7" stroke="#231f20" stroke-width="1.8"/>
<line x1="305" y1="510.6" x2="308.8" y2="510.6" stroke="#231f20" stroke-width="1.8"/>
<line x1="305" y1="492.5" x2="308.8" y2="492.5" stroke="#231f20" stroke-width="1.8"/>
<line x1="305" y1="474.4" x2="308.8" y2="474.4" stroke="#231f20" stroke-width="1.8"/>
<text transform="translate(299.8,591.6) scale(1.000,1.050)" font-size="24.3" fill="#231f20" stroke="#231f20" stroke-width="0.3" text-anchor="end">0.1</text>
<text transform="translate(299.8,555.4) scale(1.000,1.050)" font-size="24.3" fill="#231f20" stroke="#231f20" stroke-width="0.3" text-anchor="end">0.2</text>
<text transform="translate(299.8,519.2) scale(1.000,1.050)" font-size="24.3" fill="#231f20" stroke="#231f20" stroke-width="0.3" text-anchor="end">0.3</text>
<text transform="translate(299.8,483) scale(1.000,1.050)" font-size="24.3" fill="#231f20" stroke="#231f20" stroke-width="0.3" text-anchor="end">0.4</text>
<line x1="324.6" y1="619.2" x2="324.6" y2="615.4" stroke="#231f20" stroke-width="1.8"/>
<text transform="translate(325.1,644.7) scale(1.000,1.050)" font-size="24.3" fill="#231f20" stroke="#231f20" stroke-width="0.3" text-anchor="middle">0</text>
<line x1="363.8" y1="619.2" x2="363.8" y2="615.4" stroke="#231f20" stroke-width="1.8"/>
<text transform="translate(364.3,644.7) scale(1.000,1.050)" font-size="24.3" fill="#231f20" stroke="#231f20" stroke-width="0.3" text-anchor="middle">1</text>
<line x1="403" y1="619.2" x2="403" y2="615.4" stroke="#231f20" stroke-width="1.8"/>
<text transform="translate(403.5,644.7) scale(1.000,1.050)" font-size="24.3" fill="#231f20" stroke="#231f20" stroke-width="0.3" text-anchor="middle">2</text>
<line x1="442.2" y1="619.2" x2="442.2" y2="615.4" stroke="#231f20" stroke-width="1.8"/>
<text transform="translate(442.7,644.7) scale(1.000,1.050)" font-size="24.3" fill="#231f20" stroke="#231f20" stroke-width="0.3" text-anchor="middle">3</text>
<line x1="481.4" y1="619.2" x2="481.4" y2="615.4" stroke="#231f20" stroke-width="1.8"/>
<text transform="translate(481.9,644.7) scale(1.000,1.050)" font-size="24.3" fill="#231f20" stroke="#231f20" stroke-width="0.3" text-anchor="middle">4</text>
<text transform="translate(390,442.2)" font-size="29" fill="#000" text-anchor="middle" font-weight="bold">SG-G</text>
<text transform="translate(389.4,505.9) scale(1.050,1.000)" font-size="16.2" fill="#111" stroke="#111" stroke-width="0.3">Psignrank=</text>
<text transform="translate(389.4,524.5) scale(1.050,1.000)" font-size="16.2" fill="#111" stroke="#111" stroke-width="0.3">0.00024939</text>
<text transform="translate(389.4,558.6) scale(1.050,1.000)" font-size="16.2" fill="#111" stroke="#111" stroke-width="0.3">Median=</text>
<text transform="translate(389.4,577.8) scale(1.050,1.000)" font-size="16.2" fill="#111" stroke="#111" stroke-width="0.3">0.95268</text>
<polygon points="354.3,463.2 361.7,465.5 369.1,463.2 361.7,479.8" fill="#565656"/>
<rect x="569.1" y="591.4" width="9" height="24.7" fill="#647864" stroke="#1f2f1f" stroke-width="1.8"/>
<rect x="578.1" y="569.9" width="9" height="46.2" fill="#647864" stroke="#1f2f1f" stroke-width="1.8"/>
<rect x="587.1" y="492.2" width="8.2" height="123.9" fill="#647864" stroke="#1f2f1f" stroke-width="1.8"/>
<rect x="595.3" y="541.3" width="8.2" height="74.8" fill="#6ef56e" stroke="#1c5c1c" stroke-width="1.8"/>
<rect x="603.5" y="569.6" width="8.2" height="46.5" fill="#6ef56e" stroke="#1c5c1c" stroke-width="1.8"/>
<rect x="611.7" y="591" width="7.3" height="25.1" fill="#6ef56e" stroke="#1c5c1c" stroke-width="1.8"/>
<rect x="619" y="605.4" width="7.4" height="10.7" fill="#6ef56e" stroke="#1c5c1c" stroke-width="1.8"/>
<rect x="626.4" y="614.7" width="7" height="1.4" fill="#647864" stroke="#1f2f1f" stroke-width="1.8"/>
<rect x="633.4" y="612.5" width="8.2" height="3.6" fill="#6ef56e" stroke="#1c5c1c" stroke-width="1.8"/>
<path d="M542.4,472.9 V616.3 H720" fill="none" stroke="#231f20" stroke-width="2.2"/>
<line x1="542.4" y1="598.2" x2="546.2" y2="598.2" stroke="#231f20" stroke-width="1.8"/>
<line x1="542.4" y1="580.3" x2="546.2" y2="580.3" stroke="#231f20" stroke-width="1.8"/>
<line x1="542.4" y1="562.4" x2="546.2" y2="562.4" stroke="#231f20" stroke-width="1.8"/>
<line x1="542.4" y1="544.5" x2="546.2" y2="544.5" stroke="#231f20" stroke-width="1.8"/>
<line x1="542.4" y1="526.6" x2="546.2" y2="526.6" stroke="#231f20" stroke-width="1.8"/>
<line x1="542.4" y1="508.7" x2="546.2" y2="508.7" stroke="#231f20" stroke-width="1.8"/>
<line x1="542.4" y1="490.8" x2="546.2" y2="490.8" stroke="#231f20" stroke-width="1.8"/>
<line x1="542.4" y1="472.9" x2="546.2" y2="472.9" stroke="#231f20" stroke-width="1.8"/>
<text transform="translate(537.2,588.9) scale(1.000,1.050)" font-size="24.3" fill="#231f20" stroke="#231f20" stroke-width="0.3" text-anchor="end">0.1</text>
<text transform="translate(537.2,553.1) scale(1.000,1.050)" font-size="24.3" fill="#231f20" stroke="#231f20" stroke-width="0.3" text-anchor="end">0.2</text>
<text transform="translate(537.2,517.3) scale(1.000,1.050)" font-size="24.3" fill="#231f20" stroke="#231f20" stroke-width="0.3" text-anchor="end">0.3</text>
<text transform="translate(537.2,481.5) scale(1.000,1.050)" font-size="24.3" fill="#231f20" stroke="#231f20" stroke-width="0.3" text-anchor="end">0.4</text>
<line x1="562.5" y1="616.3" x2="562.5" y2="612.5" stroke="#231f20" stroke-width="1.8"/>
<text transform="translate(563,641.8) scale(1.000,1.050)" font-size="24.3" fill="#231f20" stroke="#231f20" stroke-width="0.3" text-anchor="middle">0</text>
<line x1="601.7" y1="616.3" x2="601.7" y2="612.5" stroke="#231f20" stroke-width="1.8"/>
<text transform="translate(602.2,641.8) scale(1.000,1.050)" font-size="24.3" fill="#231f20" stroke="#231f20" stroke-width="0.3" text-anchor="middle">1</text>
<line x1="640.9" y1="616.3" x2="640.9" y2="612.5" stroke="#231f20" stroke-width="1.8"/>
<text transform="translate(641.4,641.8) scale(1.000,1.050)" font-size="24.3" fill="#231f20" stroke="#231f20" stroke-width="0.3" text-anchor="middle">2</text>
<line x1="680.1" y1="616.3" x2="680.1" y2="612.5" stroke="#231f20" stroke-width="1.8"/>
<text transform="translate(680.6,641.8) scale(1.000,1.050)" font-size="24.3" fill="#231f20" stroke="#231f20" stroke-width="0.3" text-anchor="middle">3</text>
<line x1="719.3" y1="616.3" x2="719.3" y2="612.5" stroke="#231f20" stroke-width="1.8"/>
<text transform="translate(719.8,641.8) scale(1.000,1.050)" font-size="24.3" fill="#231f20" stroke="#231f20" stroke-width="0.3" text-anchor="middle">4</text>
<text transform="translate(625.8,439.7)" font-size="29" fill="#000" text-anchor="middle" font-weight="bold">G-G</text>
<text transform="translate(626.4,504.4) scale(1.050,1.000)" font-size="16.2" fill="#111" stroke="#111" stroke-width="0.3">Psignrank=</text>
<text transform="translate(626.4,522.9) scale(1.050,1.000)" font-size="16.2" fill="#111" stroke="#111" stroke-width="0.3">3.5138e-12</text>
<text transform="translate(626.4,551.8) scale(1.050,1.000)" font-size="16.2" fill="#111" stroke="#111" stroke-width="0.3">Median=</text>
<text transform="translate(626.4,570.8) scale(1.050,1.000)" font-size="16.2" fill="#111" stroke="#111" stroke-width="0.3">0.7646</text>
<polygon points="583.8,463.2 591.2,465.5 598.6,463.2 591.2,479.8" fill="#565656"/>
<text transform="translate(24.2,535) rotate(-90) scale(1.080,1.000)" font-size="23.2" fill="#231f20" stroke="#231f20" stroke-width="0.3" text-anchor="middle">Probability</text>
<text transform="translate(179.4,673) scale(1.040,1.000)" font-size="24.2" fill="#231f20" stroke="#231f20" stroke-width="0.3" text-anchor="middle">Potentiation index</text>
<rect x="918.5" y="589.9" width="6.7" height="28.6" fill="#7d5a7d" stroke="#2a1a2a" stroke-width="1.8"/>
<rect x="925.2" y="598.8" width="5.1" height="19.7" fill="#7d5a7d" stroke="#2a1a2a" stroke-width="1.8"/>
<rect x="930.3" y="543.3" width="6.3" height="75.2" fill="#7d5a7d" stroke="#2a1a2a" stroke-width="1.8"/>
<rect x="936.6" y="561.6" width="5.1" height="56.9" fill="#f064f0" stroke="#4a0f4a" stroke-width="1.8"/>
<rect x="941.7" y="580.2" width="5.5" height="38.3" fill="#f064f0" stroke="#4a0f4a" stroke-width="1.8"/>
<rect x="947.2" y="589.9" width="5.1" height="28.6" fill="#f064f0" stroke="#4a0f4a" stroke-width="1.8"/>
<rect x="952.3" y="589.9" width="5.6" height="28.6" fill="#f064f0" stroke="#4a0f4a" stroke-width="1.8"/>
<rect x="957.9" y="598.8" width="5.5" height="19.7" fill="#f064f0" stroke="#4a0f4a" stroke-width="1.8"/>
<rect x="968.5" y="607.8" width="5.1" height="10.7" fill="#f064f0" stroke="#4a0f4a" stroke-width="1.8"/>
<rect x="973.6" y="598.8" width="5.9" height="19.7" fill="#f064f0" stroke="#4a0f4a" stroke-width="1.8"/>
<rect x="1022.9" y="598.8" width="5.1" height="19.7" fill="#f064f0" stroke="#4a0f4a" stroke-width="1.8"/>
<rect x="1038.6" y="607.8" width="6.4" height="10.7" fill="#f064f0" stroke="#4a0f4a" stroke-width="1.8"/>
<rect x="1066.2" y="607.8" width="6.4" height="10.7" fill="#f064f0" stroke="#4a0f4a" stroke-width="1.8"/>
<path d="M894.1,475 V619.3 H1073" fill="none" stroke="#231f20" stroke-width="2.2"/>
<line x1="894.1" y1="600.6" x2="897.9" y2="600.6" stroke="#231f20" stroke-width="1.8"/>
<line x1="894.1" y1="582.7" x2="897.9" y2="582.7" stroke="#231f20" stroke-width="1.8"/>
<line x1="894.1" y1="564.8" x2="897.9" y2="564.8" stroke="#231f20" stroke-width="1.8"/>
<line x1="894.1" y1="546.9" x2="897.9" y2="546.9" stroke="#231f20" stroke-width="1.8"/>
<line x1="894.1" y1="529" x2="897.9" y2="529" stroke="#231f20" stroke-width="1.8"/>
<line x1="894.1" y1="511.1" x2="897.9" y2="511.1" stroke="#231f20" stroke-width="1.8"/>
<line x1="894.1" y1="493.2" x2="897.9" y2="493.2" stroke="#231f20" stroke-width="1.8"/>
<line x1="894.1" y1="475.3" x2="897.9" y2="475.3" stroke="#231f20" stroke-width="1.8"/>
<text transform="translate(888.9,591.3) scale(1.000,1.050)" font-size="24.3" fill="#231f20" stroke="#231f20" stroke-width="0.3" text-anchor="end">0.1</text>
<text transform="translate(888.9,555.5) scale(1.000,1.050)" font-size="24.3" fill="#231f20" stroke="#231f20" stroke-width="0.3" text-anchor="end">0.2</text>
<text transform="translate(888.9,519.7) scale(1.000,1.050)" font-size="24.3" fill="#231f20" stroke="#231f20" stroke-width="0.3" text-anchor="end">0.3</text>
<text transform="translate(888.9,483.9) scale(1.000,1.050)" font-size="24.3" fill="#231f20" stroke="#231f20" stroke-width="0.3" text-anchor="end">0.4</text>
<line x1="909" y1="619.3" x2="909" y2="615.5" stroke="#231f20" stroke-width="1.8"/>
<text transform="translate(909.5,644.8) scale(1.000,1.050)" font-size="24.3" fill="#231f20" stroke="#231f20" stroke-width="0.3" text-anchor="middle">0</text>
<line x1="935.9" y1="619.3" x2="935.9" y2="615.5" stroke="#231f20" stroke-width="1.8"/>
<text transform="translate(936.4,644.8) scale(1.000,1.050)" font-size="24.3" fill="#231f20" stroke="#231f20" stroke-width="0.3" text-anchor="middle">1</text>
<line x1="962.8" y1="619.3" x2="962.8" y2="615.5" stroke="#231f20" stroke-width="1.8"/>
<text transform="translate(963.3,644.8) scale(1.000,1.050)" font-size="24.3" fill="#231f20" stroke="#231f20" stroke-width="0.3" text-anchor="middle">2</text>
<line x1="989.7" y1="619.3" x2="989.7" y2="615.5" stroke="#231f20" stroke-width="1.8"/>
<text transform="translate(990.2,644.8) scale(1.000,1.050)" font-size="24.3" fill="#231f20" stroke="#231f20" stroke-width="0.3" text-anchor="middle">3</text>
<line x1="1016.6" y1="619.3" x2="1016.6" y2="615.5" stroke="#231f20" stroke-width="1.8"/>
<text transform="translate(1017.1,644.8) scale(1.000,1.050)" font-size="24.3" fill="#231f20" stroke="#231f20" stroke-width="0.3" text-anchor="middle">4</text>
<line x1="1043.5" y1="619.3" x2="1043.5" y2="615.5" stroke="#231f20" stroke-width="1.8"/>
<text transform="translate(1044,644.8) scale(1.000,1.050)" font-size="24.3" fill="#231f20" stroke="#231f20" stroke-width="0.3" text-anchor="middle">5</text>
<line x1="1070.4" y1="619.3" x2="1070.4" y2="615.5" stroke="#231f20" stroke-width="1.8"/>
<text transform="translate(1070.9,644.8) scale(1.000,1.050)" font-size="24.3" fill="#231f20" stroke="#231f20" stroke-width="0.3" text-anchor="middle">6</text>
<text transform="translate(979.7,443.1)" font-size="29" fill="#000" text-anchor="middle" font-weight="bold">SG-G</text>
<text transform="translate(978.3,480.1) scale(1.050,1.000)" font-size="16.2" fill="#111" stroke="#111" stroke-width="0.3">Psignrank=</text>
<text transform="translate(978.3,498.6) scale(1.050,1.000)" font-size="16.2" fill="#111" stroke="#111" stroke-width="0.3">0.0041772</text>
<text transform="translate(978.3,530.4) scale(1.050,1.000)" font-size="16.2" fill="#111" stroke="#111" stroke-width="0.3">Median=</text>
<text transform="translate(978.3,550) scale(1.050,1.000)" font-size="16.2" fill="#111" stroke="#111" stroke-width="0.3">1.192</text>
<polygon points="933.1,464.8 940.5,467.1 947.9,464.8 940.5,482.2" fill="#565656"/>
<rect x="1151.2" y="559.7" width="7" height="58.9" fill="#7d5a7d" stroke="#2a1a2a" stroke-width="1.8"/>
<rect x="1167.6" y="599" width="7" height="19.6" fill="#f064f0" stroke="#4a0f4a" stroke-width="1.8"/>
<rect x="1200.4" y="599" width="7" height="19.6" fill="#f064f0" stroke="#4a0f4a" stroke-width="1.8"/>
<rect x="1211.5" y="599" width="5.3" height="19.6" fill="#f064f0" stroke="#4a0f4a" stroke-width="1.8"/>
<rect x="1216.8" y="579.3" width="6.2" height="39.3" fill="#f064f0" stroke="#4a0f4a" stroke-width="1.8"/>
<rect x="1234" y="579.3" width="5" height="39.3" fill="#f064f0" stroke="#4a0f4a" stroke-width="1.8"/>
<rect x="1239" y="599" width="6.5" height="19.6" fill="#f064f0" stroke="#4a0f4a" stroke-width="1.8"/>
<rect x="1255.4" y="599" width="6.6" height="19.6" fill="#f064f0" stroke="#4a0f4a" stroke-width="1.8"/>
<rect x="1271.8" y="540.1" width="6.5" height="78.5" fill="#f064f0" stroke="#4a0f4a" stroke-width="1.8"/>
<rect x="1278.3" y="599" width="4.9" height="19.6" fill="#f064f0" stroke="#4a0f4a" stroke-width="1.8"/>
<rect x="1298.8" y="599" width="7" height="19.6" fill="#f064f0" stroke="#4a0f4a" stroke-width="1.8"/>
<path d="M1128.2,475.9 V618.6 H1306" fill="none" stroke="#231f20" stroke-width="2.2"/>
<line x1="1128.2" y1="600.8" x2="1132" y2="600.8" stroke="#231f20" stroke-width="1.8"/>
<line x1="1128.2" y1="582.9" x2="1132" y2="582.9" stroke="#231f20" stroke-width="1.8"/>
<line x1="1128.2" y1="565.1" x2="1132" y2="565.1" stroke="#231f20" stroke-width="1.8"/>
<line x1="1128.2" y1="547.2" x2="1132" y2="547.2" stroke="#231f20" stroke-width="1.8"/>
<line x1="1128.2" y1="529.4" x2="1132" y2="529.4" stroke="#231f20" stroke-width="1.8"/>
<line x1="1128.2" y1="511.5" x2="1132" y2="511.5" stroke="#231f20" stroke-width="1.8"/>
<line x1="1128.2" y1="493.7" x2="1132" y2="493.7" stroke="#231f20" stroke-width="1.8"/>
<line x1="1128.2" y1="475.8" x2="1132" y2="475.8" stroke="#231f20" stroke-width="1.8"/>
<text transform="translate(1123,591.5) scale(1.000,1.050)" font-size="24.3" fill="#231f20" stroke="#231f20" stroke-width="0.3" text-anchor="end">0.1</text>
<text transform="translate(1123,555.8) scale(1.000,1.050)" font-size="24.3" fill="#231f20" stroke="#231f20" stroke-width="0.3" text-anchor="end">0.2</text>
<text transform="translate(1123,520.1) scale(1.000,1.050)" font-size="24.3" fill="#231f20" stroke="#231f20" stroke-width="0.3" text-anchor="end">0.3</text>
<text transform="translate(1123,484.4) scale(1.000,1.050)" font-size="24.3" fill="#231f20" stroke="#231f20" stroke-width="0.3" text-anchor="end">0.4</text>
<line x1="1141.8" y1="618.6" x2="1141.8" y2="614.8" stroke="#231f20" stroke-width="1.8"/>
<text transform="translate(1142.3,644.1) scale(1.000,1.050)" font-size="24.3" fill="#231f20" stroke="#231f20" stroke-width="0.3" text-anchor="middle">0</text>
<line x1="1168.8" y1="618.6" x2="1168.8" y2="614.8" stroke="#231f20" stroke-width="1.8"/>
<text transform="translate(1169.3,644.1) scale(1.000,1.050)" font-size="24.3" fill="#231f20" stroke="#231f20" stroke-width="0.3" text-anchor="middle">1</text>
<line x1="1195.8" y1="618.6" x2="1195.8" y2="614.8" stroke="#231f20" stroke-width="1.8"/>
<text transform="translate(1196.3,644.1) scale(1.000,1.050)" font-size="24.3" fill="#231f20" stroke="#231f20" stroke-width="0.3" text-anchor="middle">2</text>
<line x1="1222.8" y1="618.6" x2="1222.8" y2="614.8" stroke="#231f20" stroke-width="1.8"/>
<text transform="translate(1223.3,644.1) scale(1.000,1.050)" font-size="24.3" fill="#231f20" stroke="#231f20" stroke-width="0.3" text-anchor="middle">3</text>
<line x1="1249.8" y1="618.6" x2="1249.8" y2="614.8" stroke="#231f20" stroke-width="1.8"/>
<text transform="translate(1250.3,644.1) scale(1.000,1.050)" font-size="24.3" fill="#231f20" stroke="#231f20" stroke-width="0.3" text-anchor="middle">4</text>
<line x1="1276.8" y1="618.6" x2="1276.8" y2="614.8" stroke="#231f20" stroke-width="1.8"/>
<text transform="translate(1277.2,644.1) scale(1.000,1.050)" font-size="24.3" fill="#231f20" stroke="#231f20" stroke-width="0.3" text-anchor="middle">5</text>
<line x1="1303.7" y1="618.6" x2="1303.7" y2="614.8" stroke="#231f20" stroke-width="1.8"/>
<text transform="translate(1304.2,644.1) scale(1.000,1.050)" font-size="24.3" fill="#231f20" stroke="#231f20" stroke-width="0.3" text-anchor="middle">6</text>
<text transform="translate(1220.3,441)" font-size="29" fill="#000" text-anchor="middle" font-weight="bold">SG-IG</text>
<text transform="translate(1133.6,477.9) scale(1.050,1.000)" font-size="16.2" fill="#111" stroke="#111" stroke-width="0.3">Psignrank=</text>
<text transform="translate(1133.6,495.1) scale(1.050,1.000)" font-size="16.2" fill="#111" stroke="#111" stroke-width="0.3">0.00085981</text>
<text transform="translate(1133.6,523) scale(1.050,1.000)" font-size="16.2" fill="#111" stroke="#111" stroke-width="0.3">Median=</text>
<text transform="translate(1133.6,542.3) scale(1.050,1.000)" font-size="16.2" fill="#111" stroke="#111" stroke-width="0.3">3.5047</text>
<polygon points="1228.7,465 1236.1,467.3 1243.5,465 1236.1,482.2" fill="#565656"/>
<text transform="translate(1099,673) scale(1.040,1.000)" font-size="24.2" fill="#231f20" stroke="#231f20" stroke-width="0.3" text-anchor="middle">Potentiation index</text>
<rect x="1397.7" y="114.9" width="495.5" height="149.2" fill="#fbc99c"/>
<rect x="1397.7" y="264.1" width="495.5" height="149.5" fill="#fde3cc"/>
<rect x="1397.7" y="413.6" width="495.5" height="148.8" fill="#feeee0"/>
<text transform="translate(1413.3,204.8)" font-size="37" fill="#000" stroke="#000" stroke-width="0.9" font-style="italic">SG</text>
<text transform="translate(1427.3,357.6)" font-size="37" fill="#000" stroke="#000" stroke-width="0.9" font-style="italic">G</text>
<text transform="translate(1421.3,501.5)" font-size="37" fill="#000" stroke="#000" stroke-width="0.9" font-style="italic">IG</text>
<circle cx="1525.9" cy="172.9" r="16.6" fill="#0cc40c"/>
<circle cx="1638.5" cy="172.9" r="16.6" fill="#0cc40c"/>
<circle cx="1525.9" cy="340" r="16.6" fill="#0cc40c"/>
<circle cx="1638.5" cy="340" r="16.6" fill="#0cc40c"/>
<circle cx="1742.5" cy="171.8" r="16.6" fill="#9208f2"/>
<circle cx="1806.2" cy="171.8" r="16.6" fill="#9208f2"/>
<circle cx="1853.9" cy="173.6" r="16.6" fill="#0cc40c"/>
<circle cx="1806.2" cy="340" r="16.6" fill="#0cc40c"/>
<circle cx="1853.9" cy="340" r="16.6" fill="#9208f2"/>
<circle cx="1742" cy="482.7" r="16.6" fill="#0cc40c"/>
<line x1="1560" y1="170.4" x2="1599" y2="170.4" stroke="#000" stroke-width="2.7"/>
<polygon points="1613.3,170.4 1592.8,178.7 1596.5,170.4 1592.8,162.2" fill="#000"/>
<polygon points="1545.7,170.4 1566.2,162.2 1562.5,170.4 1566.2,178.7" fill="#000"/>
<line x1="1526.7" y1="219.9" x2="1526.7" y2="222.9" stroke="#c0141c" stroke-width="2.7"/>
<line x1="1526.7" y1="229.8" x2="1526.7" y2="238.2" stroke="#c0141c" stroke-width="2.7"/>
<line x1="1526.7" y1="245.8" x2="1526.7" y2="254" stroke="#c0141c" stroke-width="2.7"/>
<line x1="1526.7" y1="262.1" x2="1526.7" y2="270.3" stroke="#c0141c" stroke-width="2.7"/>
<line x1="1526.7" y1="277.8" x2="1526.7" y2="286.6" stroke="#c0141c" stroke-width="2.7"/>
<line x1="1526.7" y1="290.7" x2="1526.7" y2="293.9" stroke="#c0141c" stroke-width="2.7"/>
<polygon points="1526.7,313.9 1518.5,293.4 1526.7,297.1 1535,293.4" fill="#f60c0c"/>
<polygon points="1526.7,203.4 1535,223.9 1526.7,220.2 1518.5,223.9" fill="#f60c0c"/>
<line x1="1562.5" y1="341.8" x2="1565.5" y2="341.8" stroke="#c0141c" stroke-width="2.7"/>
<line x1="1574.6" y1="341.8" x2="1584.9" y2="341.8" stroke="#c0141c" stroke-width="2.7"/>
<line x1="1594" y1="341.8" x2="1596.8" y2="341.8" stroke="#c0141c" stroke-width="2.7"/>
<polygon points="1613.3,341.8 1592.8,350.1 1596.5,341.8 1592.8,333.6" fill="#f60c0c"/>
<polygon points="1545.9,341.8 1566.4,333.6 1562.7,341.8 1566.4,350.1" fill="#f60c0c"/>
<line x1="1742.3" y1="214.5" x2="1742.3" y2="441.8" stroke="#000" stroke-width="2.7"/>
<polygon points="1742.3,456.1 1734,435.6 1742.3,439.3 1750.5,435.6" fill="#000"/>
<polygon points="1742.3,200.2 1750.5,220.7 1742.3,217 1734,220.7" fill="#000"/>
<line x1="1805.9" y1="213.9" x2="1805.9" y2="292.6" stroke="#000" stroke-width="2.7"/>
<polygon points="1805.9,307 1797.7,286.5 1805.9,290.2 1814.2,286.5" fill="#000"/>
<polygon points="1805.9,199.6 1814.2,220.1 1805.9,216.4 1797.7,220.1" fill="#000"/>
<line x1="1850.4" y1="213.9" x2="1850.4" y2="292.6" stroke="#000" stroke-width="2.7"/>
<polygon points="1850.4,307 1842.2,286.5 1850.4,290.2 1858.7,286.5" fill="#000"/>
<polygon points="1850.4,199.6 1858.7,220.1 1850.4,216.4 1842.2,220.1" fill="#000"/>
<line x1="1431.8" y1="588.4" x2="1471.2" y2="588.4" stroke="#000" stroke-width="2.5"/>
<polygon points="1485.5,588.4 1465,596.6 1468.7,588.4 1465,580.1" fill="#000"/>
<polygon points="1417.4,588.4 1437.9,580.1 1434.2,588.4 1437.9,596.6" fill="#000"/>
<line x1="1709.2" y1="595" x2="1712.4" y2="595" stroke="#c0141c" stroke-width="2.7"/>
<line x1="1722.1" y1="595" x2="1732.8" y2="595" stroke="#c0141c" stroke-width="2.7"/>
<line x1="1742.5" y1="595" x2="1745" y2="595" stroke="#c0141c" stroke-width="2.7"/>
<polygon points="1760.8,595 1741.3,603.1 1744.8,595 1741.3,586.9" fill="#f60c0c"/>
<polygon points="1694.4,595 1713.9,586.9 1710.4,595 1713.9,603.1" fill="#f60c0c"/>
<text transform="translate(1503,599.5) scale(1.060,1.000)" font-size="23.5" fill="#000" stroke="#000" stroke-width="0.3" font-style="italic">Potentiated</text>
<text transform="translate(1773,604.9) scale(1.060,1.030)" font-size="23.5" fill="#c8101c" stroke="#c8101c" stroke-width="0.3" font-style="italic">Depressed</text>
</svg>
</body></html>
